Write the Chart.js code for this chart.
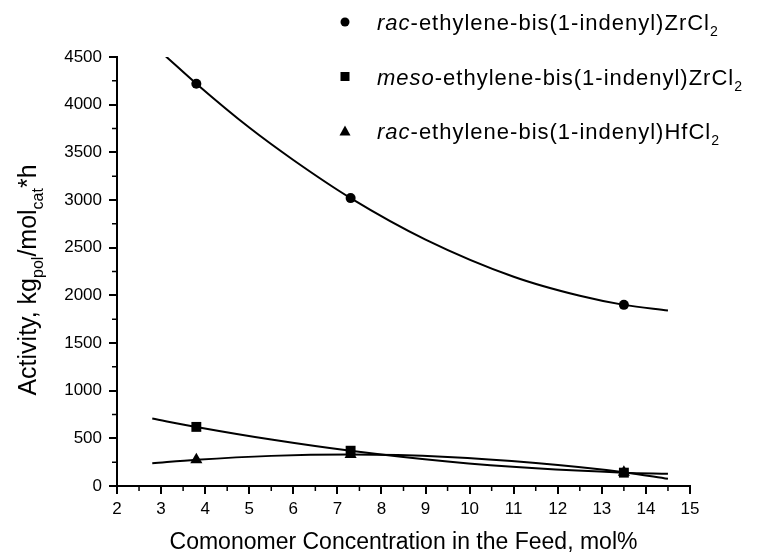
<!DOCTYPE html>
<html>
<head>
<meta charset="utf-8">
<script src="https://cdn.jsdelivr.net/npm/chart.js@4.4.1/dist/chart.umd.min.js"></script>
<style>
  html, body { margin: 0; padding: 0; background: #fff; }
</style>
</head>
<body>
<canvas id="activityChart" width="757" height="552"></canvas>
<script>
/* globals Chart:false */

// Measured activities at each comonomer concentration
const feedConc = [3.8, 7.3, 13.5];
const racZr = [4220, 3020, 1900];
const mesoZr = [620, 370, 140];
const racHf = [275, 330, 145];

// Fitted trend lines, read at a few concentrations along each curve
const racZrFitX = [3.1, 3.8, 5, 6, 7.3, 9, 11, 12.5, 13.5, 14.5];
const racZrFitY = [4510, 4220, 3760, 3420, 3020, 2585, 2195, 1995, 1900, 1840];
const mesoZrFitX = [2.8, 3.8, 5.5, 7.3, 9.5, 11.5, 13.5, 14.5];
const mesoZrFitY = [707, 620, 488, 370, 257, 185, 140, 128];
const racHfFitX = [2.8, 3.8, 5.5, 7.3, 9.5, 11.5, 13.5, 14.5];
const racHfFitY = [238, 275, 316, 330, 305, 241, 145, 75];

// Axis ticks
const xTicks = [2, 3, 4, 5, 6, 7, 8, 9, 10, 11, 12, 13, 14, 15];
const xMinorTicks = [2.5, 3.5, 4.5, 5.5, 6.5, 7.5, 8.5, 9.5, 10.5, 11.5, 12.5, 13.5, 14.5];
const yTicks = [0, 500, 1000, 1500, 2000, 2500, 3000, 3500, 4000, 4500];
const yMinorTicks = [250, 750, 1250, 1750, 2250, 2750, 3250, 3750, 4250];

// Legend entries: italic prefix, plain text, subscript
const legendItems = [
    { style: "circle", prefix: "rac", text: "-ethylene-bis(1-indenyl)ZrCl", sub: "2" },
    { style: "rect", prefix: "meso", text: "-ethylene-bis(1-indenyl)ZrCl", sub: "2" },
    { style: "triangle", prefix: "rac", text: "-ethylene-bis(1-indenyl)HfCl", sub: "2" },
];

const FONT = "'Liberation Sans', Arial, sans-serif";
Chart.defaults.font.family = FONT;
Chart.defaults.color = "#000";

const toPoints = (xs, ys) => xs.map((x, i) => ({ x: x, y: ys[i] }));

function pointSet(ys, style, radius) {
    return {
        data: toPoints(feedConc, ys),
        showLine: false,
        pointStyle: style,
        pointRadius: radius,
        backgroundColor: "#000",
        borderColor: "#000",
        borderWidth: 0,
    };
}

function fitSet(xs, ys) {
    return {
        data: toPoints(xs, ys),
        showLine: true,
        pointRadius: 0,
        borderColor: "#000",
        borderWidth: 2,
        cubicInterpolationMode: "monotone",
        fill: false,
    };
}

// draws "a" + sub "b" + "c" ... one after another, returns the width
function drawRich(ctx, parts, x, y, size, measureOnly) {
    let w = 0;
    parts.forEach(p => {
        const fs = p.sub ? size * 0.64 : size;
        ctx.font = (p.italic ? "italic " : "") + fs + "px " + FONT;
        if (!measureOnly) ctx.fillText(p.t, x + w, y + (p.sub ? size * 0.28 : 0));
        w += ctx.measureText(p.t).width;
    });
    return w;
}

const decorations = {
    id: "decorations",
    afterDraw(chart) {
        const { ctx, scales: { x, y } } = chart;
        ctx.save();
        ctx.strokeStyle = "#000";
        ctx.fillStyle = "#000";

        // minor ticks
        ctx.lineWidth = 1.5;
        ctx.beginPath();
        xMinorTicks.forEach(v => {
            const px = x.getPixelForValue(v);
            ctx.moveTo(px, y.bottom);
            ctx.lineTo(px, y.bottom + 5);
        });
        yMinorTicks.forEach(v => {
            const py = y.getPixelForValue(v);
            ctx.moveTo(x.left, py);
            ctx.lineTo(x.left - 5, py);
        });
        ctx.stroke();

        // axis titles
        ctx.textBaseline = "alphabetic";
        ctx.font = "23px " + FONT;
        ctx.textAlign = "center";
        ctx.fillText("Comonomer Concentration in the Feed, mol%", (x.left + x.right) / 2, 549);

        ctx.textAlign = "left";
        const yTitle = [
            { t: "Activity, kg" }, { t: "pol", sub: true },
            { t: "/mol" }, { t: "cat", sub: true }, { t: "*h" },
        ];
        const tw = drawRich(ctx, yTitle, 0, 0, 25, true);
        ctx.save();
        ctx.translate(36, 280);
        ctx.rotate(-Math.PI / 2);
        drawRich(ctx, yTitle, -tw / 2, 0, 25, false);
        ctx.restore();

        // legend
        const mx = 345, tx = 377;
        ctx.letterSpacing = "1px";
        legendItems.forEach((item, i) => {
            const cy = 22 + i * 54.5;
            ctx.beginPath();
            if (item.style === "circle") {
                ctx.arc(mx, cy, 4.5, 0, Math.PI * 2);
            } else if (item.style === "rect") {
                ctx.rect(mx - 4.5, cy - 4.5, 9, 9);
            } else {
                ctx.moveTo(mx, cy - 5.5);
                ctx.lineTo(mx + 5.5, cy + 4.5);
                ctx.lineTo(mx - 5.5, cy + 4.5);
                ctx.closePath();
            }
            ctx.fill();
            drawRich(ctx, [
                { t: item.prefix, italic: true },
                { t: item.text },
                { t: item.sub, sub: true },
            ], tx, cy + 8, 22, false);
        });
        ctx.letterSpacing = "0px";
        ctx.restore();
    },
};

const axisStyle = {
    grid: { drawOnChartArea: false, drawTicks: true, tickLength: 8, color: "#000", lineWidth: 2 },
    border: { display: true, color: "#000", width: 2 },
};

new Chart(document.getElementById("activityChart"), {
    type: "scatter",
    data: {
        datasets: [
            pointSet(racZr, "circle", 5),
            pointSet(mesoZr, "rect", 7),
            pointSet(racHf, "triangle", 7),
            fitSet(racZrFitX, racZrFitY),
            fitSet(mesoZrFitX, mesoZrFitY),
            fitSet(racHfFitX, racHfFitY),
        ],
    },
    options: {
        responsive: false,
        animation: false,
        layout: { padding: { top: 57, right: 67, left: 0, bottom: 0 } },
        plugins: {
            legend: { display: false },
            tooltip: { enabled: false },
        },
        scales: {
            x: {
                type: "linear",
                min: 2,
                max: 15,
                afterBuildTicks: s => { s.ticks = xTicks.map(v => ({ value: v })); },
                afterFit: s => { s.height = 66; },
                ticks: { font: { size: 17 }, padding: 5, maxRotation: 0, callback: v => String(v) },
                ...axisStyle,
            },
            y: {
                type: "linear",
                min: 0,
                max: 4500,
                afterBuildTicks: s => { s.ticks = yTicks.map(v => ({ value: v })); },
                afterFit: s => { s.width = 117; },
                ticks: { font: { size: 17 }, padding: 7, callback: v => String(v) },
                ...axisStyle,
            },
        },
    },
    plugins: [decorations],
});
</script>
</body>
</html>
